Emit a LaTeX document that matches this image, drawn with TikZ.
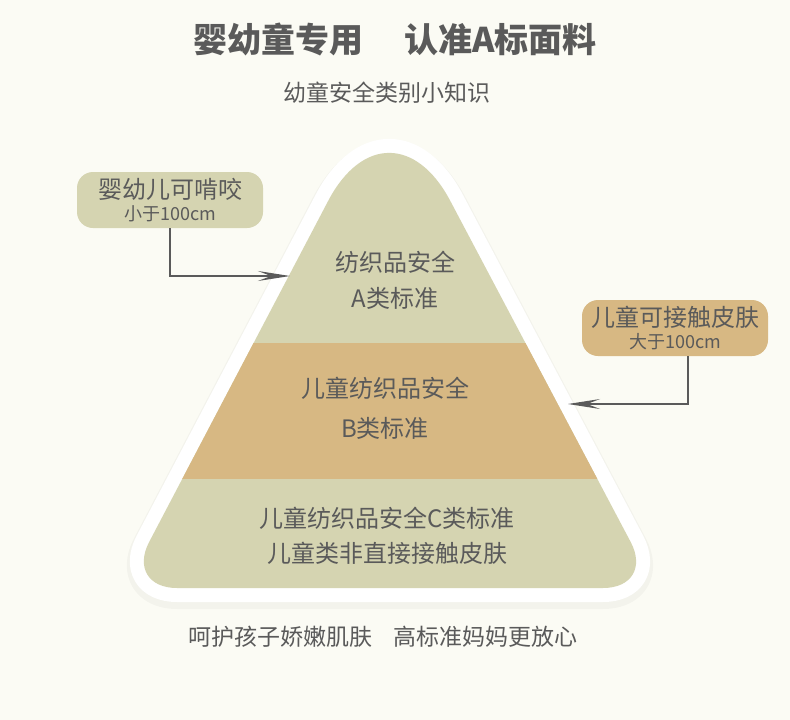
\documentclass[tikz,border=0pt]{standalone}
\usepackage{fontspec}
\setmainfont{Noto Sans CJK SC}
\usepackage{xcolor}
\usepackage{tikz}
\usetikzlibrary{arrows.meta, positioning, calc}
\definecolor{paper}{HTML}{FBFBF4}
\definecolor{sage}{HTML}{D5D4B1}
\definecolor{sand}{HTML}{D7B883}
\definecolor{ink}{HTML}{5A5A5A}
\definecolor{wire}{HTML}{5A5A5A}

\begin{document}
\begin{tikzpicture}[
  x=1pt, y=-1pt,
  pyramid/.style={insert path={(389,588) [rounded corners=52pt] -- (655,588)
      [rounded corners=131pt] -- (389,85) [rounded corners=52pt] -- (125,588) -- cycle}},
  tag/.style={rectangle, rounded corners=16pt, minimum width=186pt,
              minimum height=56pt, inner sep=0pt, align=center, text=ink},
  band/.style={align=center, text=ink, inner sep=0pt},
  arrow/.style={-{Stealth[length=32pt, width=10pt, inset=13pt]}, draw=wire, line width=1.3pt}]

  \fill[paper] (0,0) rectangle (790,720);
  \useasboundingbox (0,0) rectangle (790,720);

  % pyramid body
  \draw[black, opacity=0.03, line width=34pt, line join=round, yshift=-4pt, pyramid];
  \draw[white, line width=28pt, line join=round, pyramid];
  \fill[sage, pyramid];
  \begin{scope}
    \clip[pyramid];
    \fill[sand] (0,343) rectangle (790,479);
  \end{scope}

  \node[font=\bfseries\fontsize{34}{38}\selectfont, text=ink] (title) at (395,39)
    {婴幼童专用\hspace{1.2em}认准A标面料};
  \node[font=\fontsize{23}{26}\selectfont, text=ink] (sub) at (387,93) {幼童安全类别小知识};

  \node[band, font=\fontsize{24}{36}\selectfont] (bandA) at (395,280) {纺织品安全\\A类标准};
  \node[band, font=\fontsize{24}{40}\selectfont] (bandB) at (385,408) {儿童纺织品安全\\B类标准};
  \node[band, font=\fontsize{24}{35}\selectfont] (bandC) at (387,536) {儿童纺织品安全C类标准\\儿童类非直接接触皮肤};

  \node[tag, fill=sage] (bite) at (170,200)
    {\fontsize{24}{24}\selectfont 婴幼儿可啃咬\\[4pt]\fontsize{18}{18}\selectfont 小于100cm};
  \node[tag, fill=sand] (touch) at (675,328)
    {\fontsize{24}{24}\selectfont 儿童可接触皮肤\\[4pt]\fontsize{18}{18}\selectfont 大于100cm};

  \node[font=\fontsize{23}{26}\selectfont, text=ink] (motto) at (383,637)
    {呵护孩子娇嫩肌肤\hspace{0.9em}高标准妈妈更放心};

  \coordinate (intoA) at (290,276);
  \coordinate (intoB) at (568,404);
  \draw[arrow] (bite.south) |- (intoA);
  \draw[arrow] ([xshift=13pt]touch.south) |- (intoB);
\end{tikzpicture}
\end{document}
